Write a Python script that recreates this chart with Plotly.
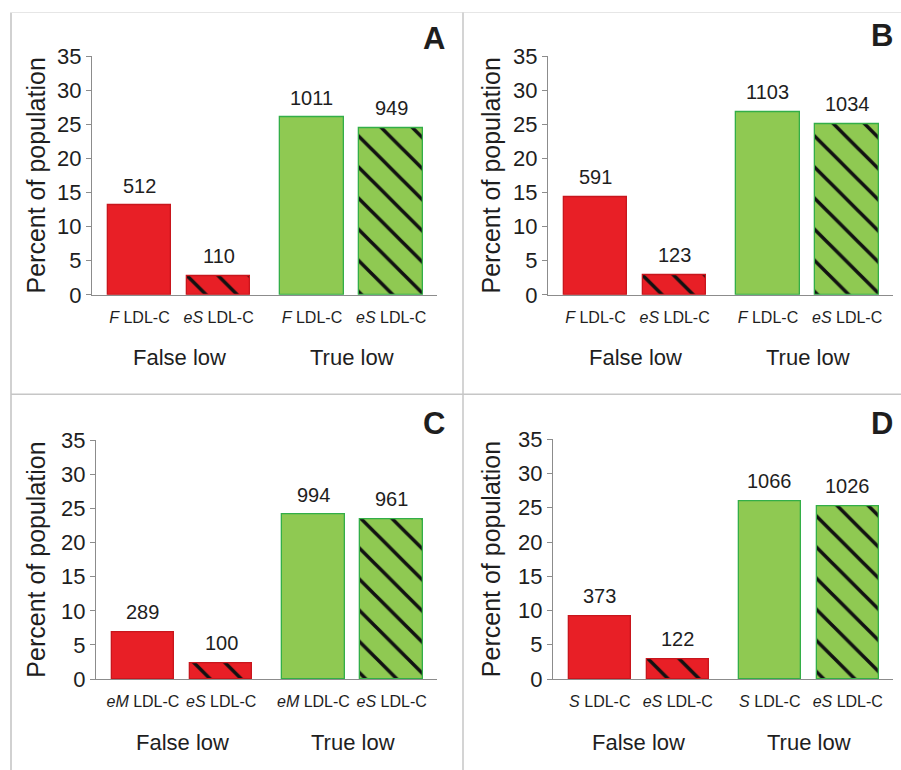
import plotly.graph_objects as go

# ---------------- data ----------------
panel_letters = ["A", "B", "C", "D"]
group_labels = ["False low", "True low"]
prefixes_A = ["F", "eS", "F", "eS"]
prefixes_B = ["F", "eS", "F", "eS"]
prefixes_C = ["eM", "eS", "eM", "eS"]
prefixes_D = ["S", "eS", "S", "eS"]
counts_A = [512, 110, 1011, 949]
counts_B = [591, 123, 1103, 1034]
counts_C = [289, 100, 994, 961]
counts_D = [373, 122, 1066, 1026]
pct_A = [13.1, 2.8, 26.0, 24.4]
pct_B = [14.3, 2.9, 26.8, 25.1]
pct_C = [6.9, 2.35, 24.1, 23.4]
pct_D = [9.2, 2.9, 26.0, 25.2]
y_ticks = [0, 5, 10, 15, 20, 25, 30, 35]
y_title = "Percent of population"

# ---------------- layout constants (pixels) ----------------
W, H = 901, 770
RED = "#E81F26"
RED_LINE = "#C8161D"
GREEN = "#8FC952"
GREEN_LINE = "#33AE48"
HATCH = "#111111"
TXT = "#1E1E1E"
AXC = "#8C8C8C"
FONT = "Liberation Sans, Arial, sans-serif"

# target pixel positions measured on the reference picture
panels = [
    dict(letter=panel_letters[0], pre=prefixes_A, cnt=counts_A, pct=pct_A,
         ax0=92, ax1=437, y0=295, y35=57, ytx=36, letter_r=447, letter_t=20,
         grp=357),
    dict(letter=panel_letters[1], pre=prefixes_B, cnt=counts_B, pct=pct_B,
         ax0=548, ax1=893, y0=295, y35=57, ytx=491, letter_r=895, letter_t=17,
         grp=357),
    dict(letter=panel_letters[2], pre=prefixes_C, cnt=counts_C, pct=pct_C,
         ax0=96, ax1=437, y0=678, y35=440, ytx=36, letter_r=447, letter_t=404,
         grp=741),
    dict(letter=panel_letters[3], pre=prefixes_D, cnt=counts_D, pct=pct_D,
         ax0=553, ax1=893, y0=678, y35=439, ytx=491, letter_r=895, letter_t=404,
         grp=741),
]

GROUP_STEP = 2.18
BAR_W = 0.8
X_RANGE = [-0.6, 3.76]
BAR_COLORS = [RED, RED, GREEN, GREEN]
BAR_LINES = [RED_LINE, RED_LINE, GREEN_LINE, GREEN_LINE]
BAR_HATCH = ["", "\\", "", "\\"]

# the page is photographed with a small vertical squeeze; compensate for it
V_OFF, V_SCALE = 13.0, 0.9646


def px_x(p):
    return p / W


def px_y(p):
    return 1 - ((p - V_OFF) / V_SCALE) / H


fig = go.Figure()
annotations = []
layout_axes = {}

for k, p in enumerate(panels, start=1):
    xs = []
    for g in range(2):
        for i in range(2):
            xs.append(g * GROUP_STEP + i)
    xa = "x" if k == 1 else f"x{k}"
    ya = "y" if k == 1 else f"y{k}"
    for j, (xv, yv) in enumerate(zip(xs, p["pct"])):
        mk = dict(color=BAR_COLORS[j], line=dict(color=BAR_LINES[j], width=1.3))
        if BAR_HATCH[j]:
            mk["pattern"] = dict(shape=BAR_HATCH[j], fgcolor=HATCH,
                                 bgcolor=BAR_COLORS[j], fgopacity=1,
                                 size=22, solidity=0.16, fillmode="replace")
        fig.add_trace(go.Bar(x=[xv], y=[yv], width=BAR_W, xaxis=xa, yaxis=ya,
                             marker=mk, hoverinfo="skip", showlegend=False))
    # count labels
    for xv, yv, c in zip(xs, p["pct"], p["cnt"]):
        annotations.append(dict(x=xv, y=yv, xref=xa, yref=ya, text=str(c),
                                showarrow=False, yanchor="bottom", yshift=7,
                                font=dict(size=20, color=TXT, family=FONT)))
    # group labels
    for g, gl in enumerate(group_labels):
        annotations.append(dict(x=g * GROUP_STEP + 0.5, xref=xa,
                                y=px_y(p["grp"]), yref="paper",
                                text=gl, showarrow=False, yanchor="middle",
                                font=dict(size=22, color=TXT, family=FONT)))
    # y title
    annotations.append(dict(x=px_x(p["ytx"]), y=px_y((p["y0"] + p["y35"]) / 2),
                            xref="paper", yref="paper", text=y_title,
                            textangle=-90, showarrow=False,
                            xanchor="center", yanchor="middle",
                            font=dict(size=25, color=TXT, family=FONT)))
    # panel letter
    annotations.append(dict(x=px_x(p["letter_r"]), y=px_y(p["letter_t"]),
                            xref="paper", yref="paper", text=f"<b>{p['letter']}</b>",
                            showarrow=False, xanchor="right", yanchor="top",
                            font=dict(size=31, color=TXT, family=FONT)))

    ticktext = [f"<i>{pr}</i> LDL-C" for pr in p["pre"]]
    xkey = "xaxis" if k == 1 else f"xaxis{k}"
    ykey = "yaxis" if k == 1 else f"yaxis{k}"
    layout_axes[xkey] = dict(
        domain=[px_x(p["ax0"]), px_x(p["ax1"])], range=X_RANGE,
        anchor=ya, showline=True, linecolor=AXC, linewidth=1.3,
        showgrid=False, zeroline=False, tickmode="array", tickvals=xs,
        ticktext=ticktext, ticks="outside", ticklen=8,
        tickcolor="rgba(0,0,0,0)",
        tickfont=dict(size=16, color=TXT, family=FONT), fixedrange=True,
    )
    layout_axes[ykey] = dict(
        domain=[px_y(p["y0"]), px_y(p["y35"])], range=[0, 35],
        anchor=xa, showline=True, linecolor=AXC, linewidth=1.3,
        showgrid=False, zeroline=False, tickmode="array", tickvals=y_ticks,
        ticks="outside", ticklen=5, tickcolor=AXC, tickwidth=1.3,
        tickfont=dict(size=22, color=TXT, family=FONT), fixedrange=True,
    )

frame = [
    dict(type="line", xref="paper", yref="paper", x0=px_x(11), x1=px_x(11),
         y0=px_y(13.5), y1=px_y(780), line=dict(color="#C2C2C2", width=1.5)),
    dict(type="line", xref="paper", yref="paper", x0=px_x(11), x1=px_x(W),
         y0=px_y(13.5), y1=px_y(13.5), line=dict(color="#E6E6E6", width=1)),
    dict(type="line", xref="paper", yref="paper", x0=px_x(463), x1=px_x(463),
         y0=px_y(13.5), y1=px_y(780), line=dict(color="#C6C6C6", width=1.5)),
    dict(type="line", xref="paper", yref="paper", x0=px_x(11), x1=px_x(W),
         y0=px_y(394), y1=px_y(394), line=dict(color="#C6C6C6", width=1.5)),
]

fig.update_layout(
    width=W, height=H, margin=dict(l=0, r=0, t=0, b=0),
    paper_bgcolor="white", plot_bgcolor="white",
    font=dict(family=FONT, color=TXT),
    annotations=annotations, shapes=frame, bargap=0, barmode="overlay",
    **layout_axes,
)

fig.write_html("out.html", config={"displayModeBar": False},
               post_script="document.body.style.margin='0';document.body.style.overflow='hidden';")
